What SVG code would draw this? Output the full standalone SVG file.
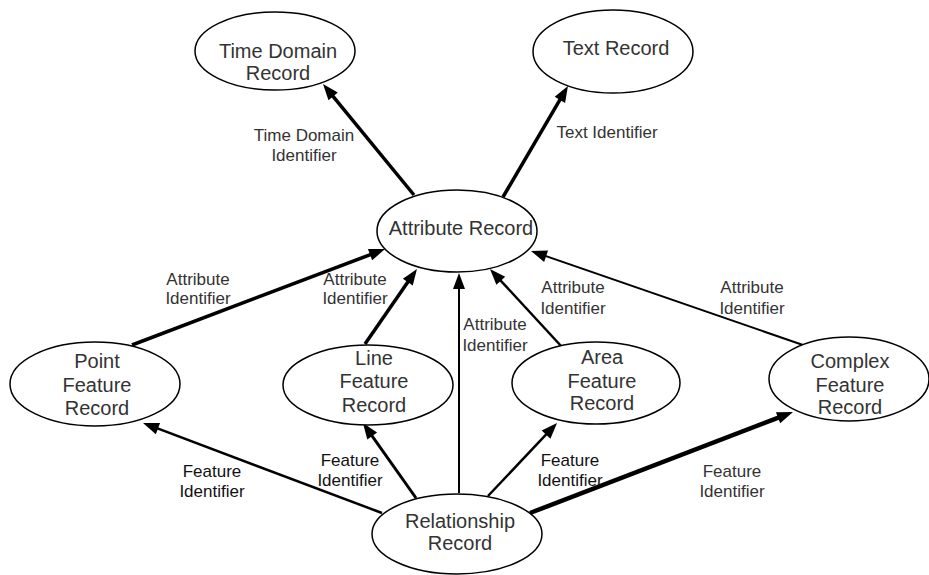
<svg xmlns="http://www.w3.org/2000/svg" width="929" height="575" viewBox="0 0 929 575">
<defs>
<style>
.node ellipse{fill:#fff;stroke:#000;stroke-width:1.5}
.nl{font-family:"Liberation Sans",Arial,sans-serif;font-size:20px;fill:#333;text-anchor:middle}
.el{font-family:"Liberation Sans",Arial,sans-serif;font-size:17px;fill:#333;text-anchor:middle}
.dk{fill:#111}
.edge{stroke:#000;fill:none}
</style>
<marker id="ah" markerUnits="userSpaceOnUse" markerWidth="20" markerHeight="14" viewBox="0 0 20 14" refX="4" refY="7" orient="auto" overflow="visible"><path d="M0,1 L16,7 L0,13 z" fill="#000"/></marker>
</defs>
<rect width="929" height="575" fill="#fff"/>
<g id="connectors">
<line class="edge" x1="414" y1="195" x2="330.6" y2="93.3" stroke-width="3.5" marker-end="url(#ah)"/>
<line class="edge" x1="503" y1="197" x2="561.9" y2="96.4" stroke-width="3.5" marker-end="url(#ah)"/>
<line class="edge" x1="132" y1="345" x2="373.8" y2="253.3" stroke-width="3.5" marker-end="url(#ah)"/>
<line class="edge" x1="365" y1="344" x2="410.1" y2="278.8" stroke-width="3.5" marker-end="url(#ah)"/>
<line class="edge" x1="459" y1="493" x2="459" y2="285" stroke-width="2" marker-end="url(#ah)"/>
<line class="edge" x1="562" y1="347" x2="498.1" y2="277.8" stroke-width="2.5" marker-end="url(#ah)"/>
<line class="edge" x1="803" y1="345" x2="542.3" y2="254.9" stroke-width="2" marker-end="url(#ah)"/>
<line class="edge" x1="382" y1="513" x2="154.2" y2="427.2" stroke-width="2.5" marker-end="url(#ah)"/>
<line class="edge" x1="416" y1="498" x2="369.9" y2="432.8" stroke-width="3" marker-end="url(#ah)"/>
<line class="edge" x1="488" y1="496" x2="548.8" y2="431.7" stroke-width="2.5" marker-end="url(#ah)"/>
<line class="edge" x1="530" y1="513" x2="781.8" y2="416.3" stroke-width="4.5" marker-end="url(#ah)"/>
</g>
<g id="edge-labels">
<text class="el" x="304" y="141">Time Domain</text>
<text class="el" x="304" y="161">Identifier</text>
<text class="el" x="607" y="138">Text Identifier</text>
<text class="el" x="198" y="285">Attribute</text>
<text class="el" x="198" y="304">Identifier</text>
<text class="el" x="355" y="285">Attribute</text>
<text class="el" x="355" y="304">Identifier</text>
<text class="el" x="495" y="330">Attribute</text>
<text class="el" x="495" y="351">Identifier</text>
<text class="el" x="573" y="293">Attribute</text>
<text class="el" x="573" y="314">Identifier</text>
<text class="el" x="752" y="293">Attribute</text>
<text class="el" x="752" y="314">Identifier</text>
<text class="el dk" x="212" y="477">Feature</text>
<text class="el dk" x="212" y="497">Identifier</text>
<text class="el dk" x="350" y="466">Feature</text>
<text class="el dk" x="350" y="486">Identifier</text>
<text class="el dk" x="570" y="466">Feature</text>
<text class="el dk" x="570" y="486">Identifier</text>
<text class="el" x="732" y="477">Feature</text>
<text class="el" x="732" y="497">Identifier</text>
</g>
<g id="time-domain-record" class="node">
<ellipse cx="275" cy="51" rx="80" ry="39"/>
<text class="nl" x="278" y="58">Time Domain</text>
<text class="nl" x="278" y="80">Record</text>
</g>
<g id="text-record" class="node">
<ellipse cx="613" cy="51.5" rx="80" ry="41.5"/>
<text class="nl" x="616" y="55">Text Record</text>
</g>
<g id="attribute-record" class="node">
<ellipse cx="457" cy="231" rx="80" ry="41"/>
<text class="nl" x="461" y="235">Attribute Record</text>
</g>
<g id="point-feature-record" class="node">
<ellipse cx="95" cy="384" rx="85" ry="42"/>
<text class="nl" x="97" y="368">Point</text>
<text class="nl" x="97" y="392">Feature</text>
<text class="nl" x="97" y="415">Record</text>
</g>
<g id="line-feature-record" class="node">
<ellipse cx="368" cy="385" rx="85" ry="40"/>
<text class="nl" x="374" y="365">Line</text>
<text class="nl" x="374" y="388">Feature</text>
<text class="nl" x="374" y="412">Record</text>
</g>
<g id="area-feature-record" class="node">
<ellipse cx="596" cy="383" rx="84" ry="41"/>
<text class="nl" x="602" y="364">Area</text>
<text class="nl" x="602" y="388">Feature</text>
<text class="nl" x="602" y="410">Record</text>
</g>
<g id="complex-feature-record" class="node">
<ellipse cx="849" cy="379" rx="80" ry="42"/>
<text class="nl" x="850" y="368">Complex</text>
<text class="nl" x="850" y="392">Feature</text>
<text class="nl" x="850" y="414">Record</text>
</g>
<g id="relationship-record" class="node">
<ellipse cx="457" cy="534" rx="85" ry="40"/>
<text class="nl" x="460" y="528">Relationship</text>
<text class="nl" x="460" y="550">Record</text>
</g>
</svg>
